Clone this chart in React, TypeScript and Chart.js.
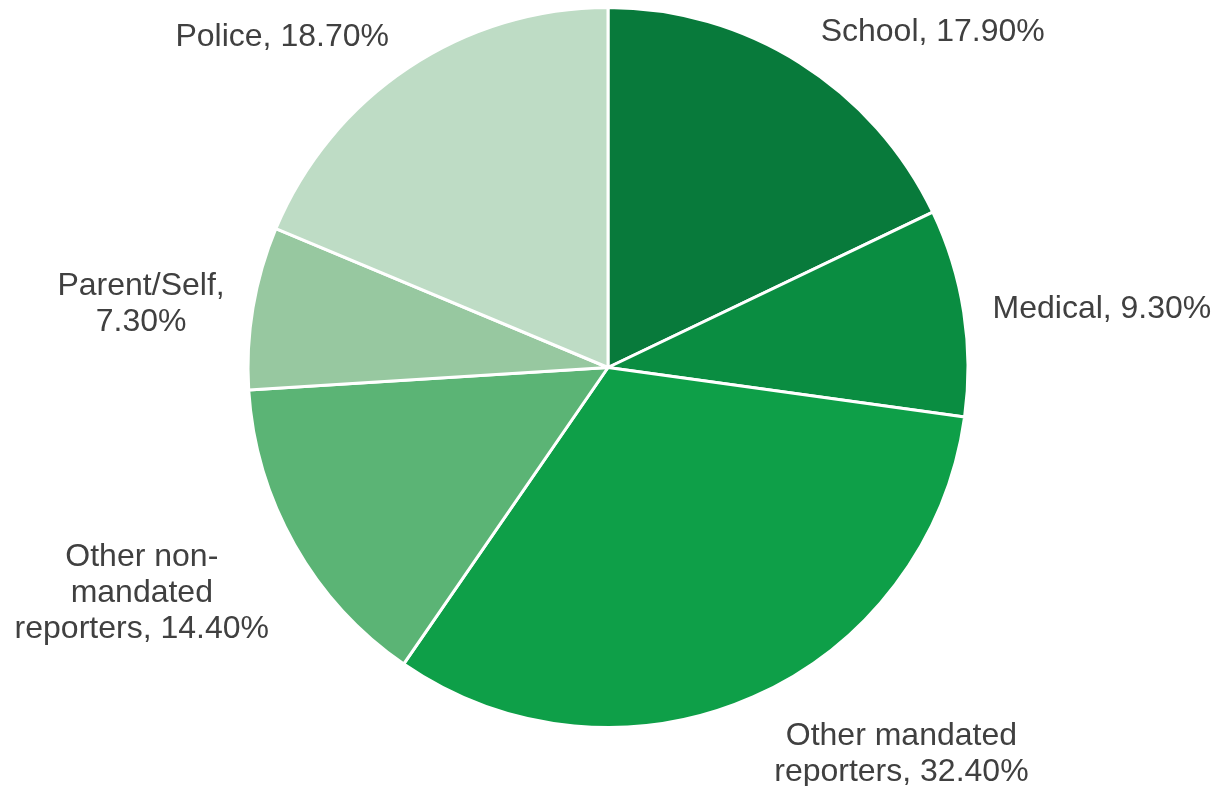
import React, { useEffect, useRef } from "react";
import { Chart, registerables } from "chart.js";

Chart.register(...registerables);

const categories = [
  "School",
  "Medical",
  "Other mandated reporters",
  "Other non-mandated reporters",
  "Parent/Self",
  "Police",
];
const values = [17.9, 9.3, 32.4, 14.4, 7.3, 18.7];
const colors = ["#087A3B", "#0A8D41", "#0E9F48", "#5BB475", "#97C8A0", "#BEDCC5"];
const labelLines = [
  ["School, 17.90%"],
  ["Medical, 9.30%"],
  ["Other mandated", "reporters, 32.40%"],
  ["Other non-", "mandated", "reporters, 14.40%"],
  ["Parent/Self,", "7.30%"],
  ["Police, 18.70%"],
];
// label anchor positions relative to pie centre, in units of radius
const labelOffsets = [
  [0.902, -0.939],
  [1.372, -0.169],
  [0.815, 1.067],
  [-1.295, 0.618],
  [-1.297, -0.184],
  [-0.905, -0.927],
];

const labelPlugin = {
  id: "pieLabels",
  afterDatasetsDraw(chart: any) {
    const meta = chart.getDatasetMeta(0);
    const arc = meta.data[0];
    if (!arc) return;
    const cx = arc.x;
    const cy = arc.y;
    const r = arc.outerRadius;
    const ctx = chart.ctx;
    ctx.save();
    ctx.font = "32px 'Liberation Sans', Arial, sans-serif";
    ctx.fillStyle = "#404040";
    ctx.textAlign = "center";
    ctx.textBaseline = "middle";
    const lh = 36;
    labelLines.forEach((lines, i) => {
      const [ox, oy] = labelOffsets[i];
      const x = cx + ox * r;
      const y = cy + oy * r + 3;
      const y0 = y - ((lines.length - 1) * lh) / 2;
      lines.forEach((t, j) => ctx.fillText(t, x, y0 + j * lh));
    });
    ctx.restore();
  },
};

export default function App() {
  const ref = useRef<HTMLCanvasElement | null>(null);
  useEffect(() => {
    document.body.style.margin = "0";
    const chart = new Chart(ref.current!, {
      type: "pie",
      data: {
        labels: categories,
        datasets: [
          {
            data: values,
            backgroundColor: colors,
            borderColor: "#ffffff",
            borderWidth: 3,
          },
        ],
      },
      options: {
        responsive: false,
        animation: false,
        layout: { padding: { top: 6, bottom: 57, left: 0, right: 0 } },
        plugins: {
          legend: { display: false },
          tooltip: { enabled: false },
        },
      },
      plugins: [labelPlugin],
    });
    return () => chart.destroy();
  }, []);
  return (
    <div style={{ width: 1216, height: 786, background: "#fff" }}>
      <canvas ref={ref} width={1216} height={786} style={{ display: "block" }} />
    </div>
  );
}
